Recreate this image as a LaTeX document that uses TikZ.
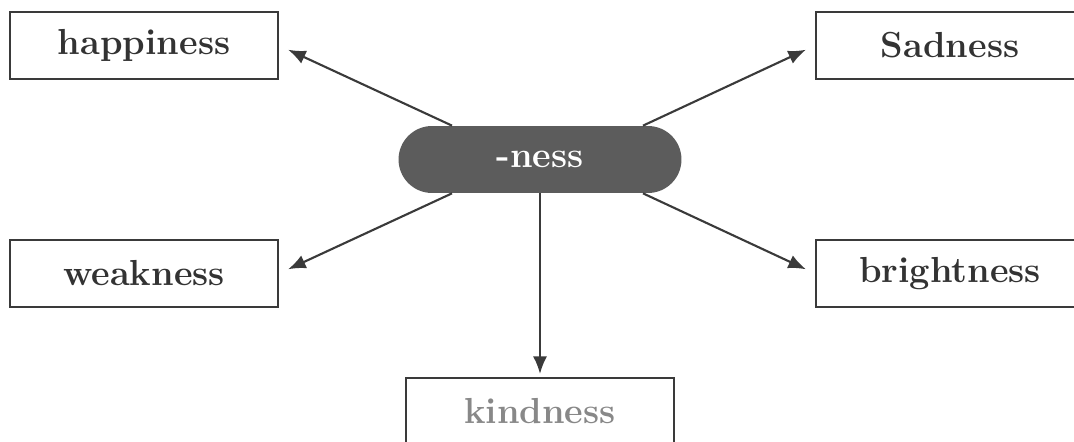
\documentclass[tikz,border=0pt]{standalone}
\usepackage{tikz}
\usetikzlibrary{arrows.meta}

\definecolor{inkdark}{HTML}{333333}
\definecolor{linedark}{HTML}{3A3A3A}
\definecolor{pillgray}{HTML}{5C5C5C}
\definecolor{textgray}{HTML}{888888}

\tikzset{
    wordbox/.style={draw=linedark, line width=1.2pt, fill=white, minimum width=5.36cm,
        minimum height=1.34cm, inner sep=0pt, text=inkdark, font=\fontsize{20.6}{24}\selectfont\bfseries},
    pill/.style={fill=pillgray, rounded corners=0.67cm, minimum width=5.66cm,
        minimum height=1.34cm, inner sep=0pt, text=white, font=\fontsize{20.6}{24}\selectfont\bfseries},
    link/.style={draw=linedark, line width=1.2pt, -{Latex[length=10pt,width=8pt]}}
}

\begin{document}
\begin{tikzpicture}[x=0.02cm, y=-0.02cm]
    \useasboundingbox (0,0) rectangle (1074,442);
    \clip (0,0) rectangle (1074,442);

    % centre
    \node[pill] (ness) at (540,159.5) {-ness};

    % words
    \node[wordbox] (happy) at (144,45.5) {happiness};
    \node[wordbox] (sad) at (950,45.5) {Sadness};
    \node[wordbox] (weak) at (144,273.5) {weakness};
    \node[wordbox] (bright) at (950,273.5) {brightness};
    \node[wordbox, text=textgray] (kind) at (540,411.5) {kindness};

    \coordinate (nw) at ([xshift=-1.76cm]ness.north);
    \coordinate (ne) at ([xshift=2.06cm]ness.north);
    \coordinate (sw) at ([xshift=-1.76cm]ness.south);
    \coordinate (se) at ([xshift=2.06cm]ness.south);

    \draw[link, shorten >=0.2cm] (nw) -- (happy.east);
    \draw[link, shorten >=0.2cm] (ne) -- (sad.west);
    \draw[link, shorten >=0.2cm] (sw) -- (weak.east);
    \draw[link, shorten >=0.2cm] (se) -- (bright.west);
    \draw[link, shorten >=0.06cm] (ness.south) -- (kind.north);

\end{tikzpicture}
\end{document}
